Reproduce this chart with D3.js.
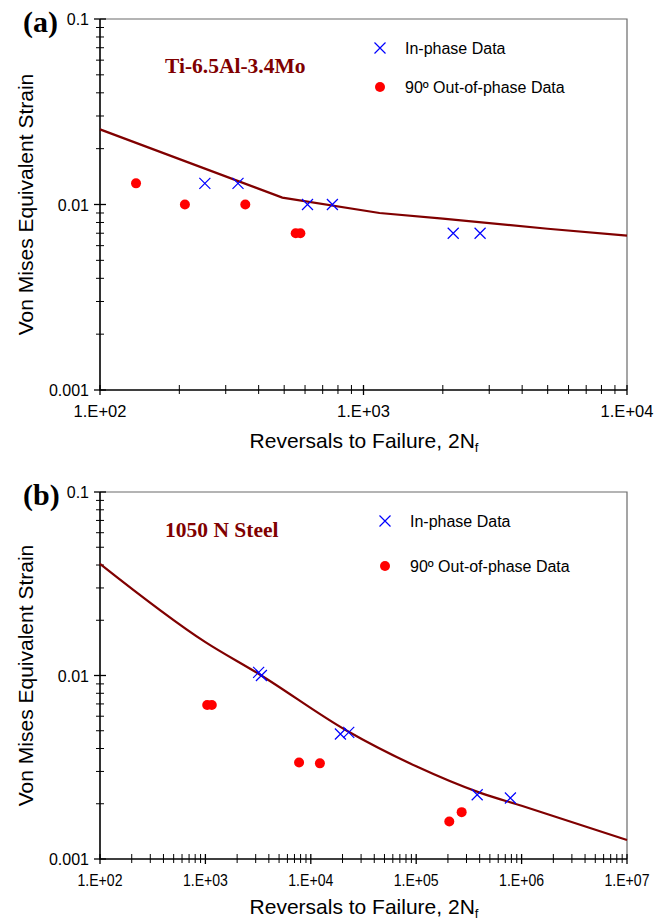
<!DOCTYPE html>
<html>
<head>
<meta charset="utf-8">
<script src="https://cdn.jsdelivr.net/npm/d3@7"></script>
<style>
  body { margin: 0; background: #fff; }
  svg { display: block; }
</style>
</head>
<body>
<div id="chart"></div>
<script>
// ---- panel (a) Ti-6.5Al-3.4Mo ----
var aInPhaseN = [250, 334, 613, 762, 2190, 2770];
var aInPhaseStrain = [0.013, 0.013, 0.010, 0.010, 0.007, 0.007];
var aOutPhaseN = [137, 210, 356, 553, 576];
var aOutPhaseStrain = [0.013, 0.010, 0.010, 0.007, 0.007];
var aCurveN = [100, 492, 1150, 2000, 5000, 10000];
var aCurveStrain = [0.0254, 0.0109, 0.0090, 0.0084, 0.0074, 0.0068];
var aXTicks = [1e2, 1e3, 1e4];

// ---- panel (b) 1050 N Steel ----
var bInPhaseN = [3200, 3400, 19100, 22900, 379000, 783000];
var bInPhaseStrain = [0.0104, 0.0100, 0.0048, 0.0049, 0.00224, 0.00215];
var bOutPhaseN = [1040, 1150, 7740, 12200, 206000, 270000];
var bOutPhaseStrain = [0.0069, 0.0069, 0.00336, 0.00332, 0.0016, 0.0018];
var bCurveN = [100, 1000, 3300, 22000, 100000, 400000, 1000000, 10000000];
var bCurveStrain = [0.0406, 0.0152, 0.0101, 0.0050, 0.0032, 0.0023, 0.00195, 0.00127];
var bXTicks = [1e2, 1e3, 1e4, 1e5, 1e6, 1e7];

var yTicks = [0.1, 0.01, 0.001];
var legendLabels = ["In-phase Data", "90º Out-of-phase Data"];

var SANS = "'Liberation Sans', Arial, sans-serif";
var SERIF = "'Liberation Serif', 'Times New Roman', serif";

var width = 662, height = 922;
var svg = d3.select("#chart").append("svg")
    .attr("width", width)
    .attr("height", height)
    .style("font-family", SANS);

function fmtX(v){
    return "1.E+" + d3.format("02d")(Math.round(Math.log10(v)));
}

function crossPath(cx, cy, s){
    return "M" + (cx - s) + "," + (cy - s) + "L" + (cx + s) + "," + (cy + s) +
           "M" + (cx - s) + "," + (cy + s) + "L" + (cx + s) + "," + (cy - s);
}

function drawPanel(p){
    var x = d3.scaleLog().domain([p.xTicks[0], p.xTicks[p.xTicks.length-1]]).range([100, 627]);
    var y = d3.scaleLog().domain([0.001, 0.1]).range([p.bottom, p.top]);
    var g = svg.append("g");

    // frame top / right (grey)
    g.append("path")
        .attr("d", "M" + x.range()[0] + "," + p.top + "H" + x.range()[1] + "V" + p.bottom)
        .attr("fill", "none").attr("stroke", "#6a6a6a").attr("stroke-width", 1.2);

    // minor ticks for both axes
    var xMinor = [], yMinor = [];
    for (var i = 0; i < p.xTicks.length - 1; i++)
        for (var k = 2; k <= 9; k++) xMinor.push(p.xTicks[i] * k);
    for (var j = 0; j < yTicks.length - 1; j++)
        for (var m = 2; m <= 9; m++) yMinor.push(yTicks[j + 1] * m);

    g.selectAll(".xminor").data(xMinor).enter().append("line")
        .attr("x1", function(d){ return x(d); }).attr("x2", function(d){ return x(d); })
        .attr("y1", p.bottom - 5).attr("y2", p.bottom + 4)
        .attr("stroke", "#000").attr("stroke-width", 1);
    g.selectAll(".xmajor").data(p.xTicks).enter().append("line")
        .attr("x1", function(d){ return x(d); }).attr("x2", function(d){ return x(d); })
        .attr("y1", p.bottom - 5).attr("y2", p.bottom + 5)
        .attr("stroke", "#000").attr("stroke-width", 1.3);
    g.selectAll(".yminor").data(yMinor).enter().append("line")
        .attr("y1", function(d){ return y(d); }).attr("y2", function(d){ return y(d); })
        .attr("x1", 96).attr("x2", 104)
        .attr("stroke", "#000").attr("stroke-width", 1);
    g.selectAll(".ymajor").data(yTicks).enter().append("line")
        .attr("y1", function(d){ return y(d); }).attr("y2", function(d){ return y(d); })
        .attr("x1", 94).attr("x2", 106)
        .attr("stroke", "#000").attr("stroke-width", 1.3);

    // axes lines
    g.append("path")
        .attr("d", "M100," + p.top + "V" + p.bottom + "H627")
        .attr("fill", "none").attr("stroke", "#000").attr("stroke-width", 1.6);

    // tick labels
    var xl = g.selectAll(".xlab").data(p.xTicks).enter().append("text")
        .attr("x", function(d){ return x(d); })
        .attr("y", p.bottom + 27)
        .attr("text-anchor", "middle")
        .attr("font-size", 16.5)
        .text(fmtX);
    if (p.condensed) xl.attr("textLength", 45).attr("lengthAdjust", "spacingAndGlyphs");

    g.selectAll(".ylab").data(yTicks).enter().append("text")
        .attr("x", 89)
        .attr("y", function(d){ return y(d) + 6; })
        .attr("text-anchor", "end")
        .attr("font-size", 16)
        .text(function(d){ return String(d); });

    // axis titles
    var xt = g.append("text")
        .attr("x", 364).attr("y", p.bottom + p.xTitleOff)
        .attr("text-anchor", "middle")
        .attr("font-size", 21);
    xt.append("tspan").text("Reversals to Failure, 2N");
    xt.append("tspan").attr("font-size", 13).attr("dy", 4).text("f");

    g.append("text")
        .attr("transform", "translate(33," + ((p.top + p.bottom) / 2) + ") rotate(-90)")
        .attr("text-anchor", "middle")
        .attr("font-size", 21)
        .text("Von Mises Equivalent Strain");

    // panel letter and material
    g.append("text")
        .attr("x", 23).attr("y", p.top + 13)
        .style("font-family", SERIF)
        .attr("font-weight", "bold")
        .attr("font-size", 30)
        .text(p.letter);
    g.append("text")
        .attr("x", 165).attr("y", p.titleY)
        .style("font-family", SERIF)
        .attr("font-weight", "bold")
        .attr("font-size", 21.5)
        .attr("fill", "#800000")
        .text(p.title);

    // fitted curve
    var line = d3.line()
        .x(function(d){ return x(d[0]); })
        .y(function(d){ return y(d[1]); })
        .curve(p.smooth ? d3.curveMonotoneX : d3.curveLinear);
    g.append("path")
        .datum(d3.zip(p.curveN, p.curveS))
        .attr("d", line)
        .attr("fill", "none")
        .attr("stroke", "#800000")
        .attr("stroke-width", 2.2);

    // 90 deg out of phase
    g.selectAll(".dot").data(d3.zip(p.outN, p.outS)).enter().append("circle")
        .attr("cx", function(d){ return x(d[0]); })
        .attr("cy", function(d){ return y(d[1]); })
        .attr("r", 5)
        .attr("fill", "#ff0000");

    // in phase crosses
    var s = 5.5;
    g.selectAll(".cross").data(d3.zip(p.inN, p.inS)).enter().append("path")
        .attr("d", function(d){ return crossPath(x(d[0]), y(d[1]), s); })
        .attr("stroke", "#0000ff").attr("stroke-width", 1.2).attr("fill", "none");

    // legend
    var lx = p.legendX, ly = p.legendY;
    g.append("path")
        .attr("d", crossPath(lx, ly, s))
        .attr("stroke", "#0000ff").attr("stroke-width", 1.2);
    g.append("circle").attr("cx", lx).attr("cy", ly + p.legendGap).attr("r", 5).attr("fill", "#ff0000");
    g.selectAll(".leg").data(legendLabels).enter().append("text")
        .attr("x", lx + 25)
        .attr("y", function(d, i){ return ly + 6 + i * p.legendGap; })
        .attr("font-size", 16)
        .text(function(d){ return d; });
}

drawPanel({
    top: 19, bottom: 390, xTicks: aXTicks, letter: "(a)", title: "Ti-6.5Al-3.4Mo", titleY: 73,
    curveN: aCurveN, curveS: aCurveStrain, inN: aInPhaseN, inS: aInPhaseStrain,
    outN: aOutPhaseN, outS: aOutPhaseStrain, legendX: 380, legendY: 48, legendGap: 39,
    condensed: false, smooth: false, xTitleOff: 58
});
drawPanel({
    top: 492, bottom: 859, xTicks: bXTicks, letter: "(b)", title: "1050 N Steel", titleY: 537,
    curveN: bCurveN, curveS: bCurveStrain, inN: bInPhaseN, inS: bInPhaseStrain,
    outN: bOutPhaseN, outS: bOutPhaseStrain, legendX: 385, legendY: 521, legendGap: 45,
    condensed: true, smooth: true, xTitleOff: 55
});
</script>
</body>
</html>
